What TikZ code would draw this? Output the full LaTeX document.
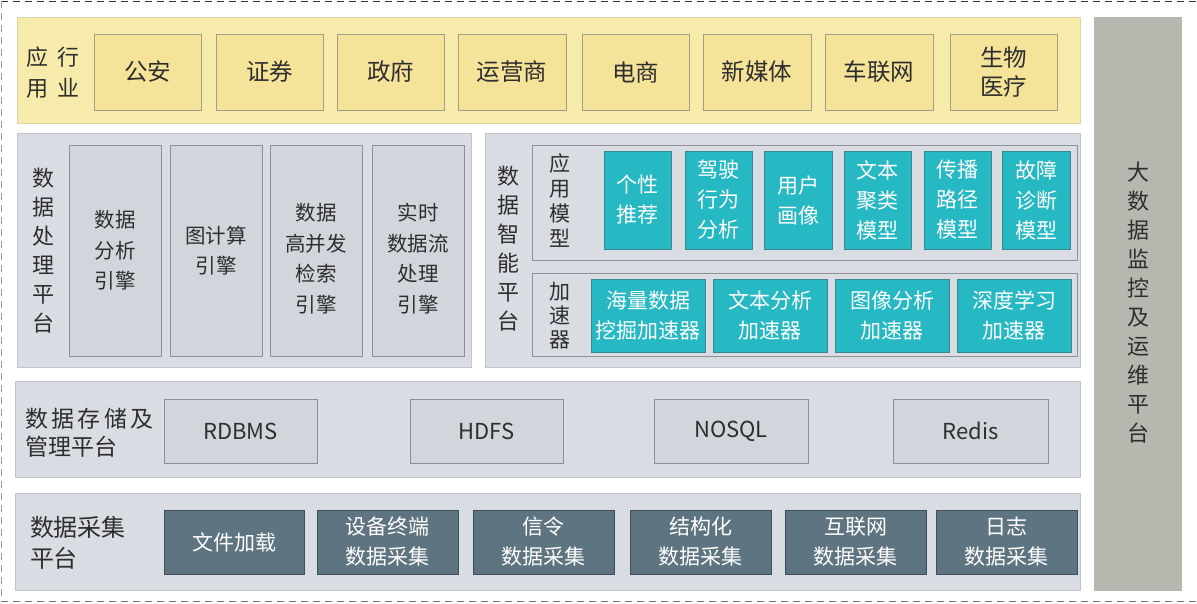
\documentclass[tikz,border=0pt]{standalone}
\usepackage{fontspec}
\setmainfont{Noto Sans CJK SC}
\definecolor{txt}{HTML}{2E2E2E}
\definecolor{ypanelfill}{HTML}{F7EBAC}
\definecolor{ypanelline}{HTML}{DCD3A6}
\definecolor{yitemfill}{HTML}{F6E39A}
\definecolor{yitemline}{HTML}{A59F8A}
\definecolor{gpanelfill}{HTML}{D9DCE3}
\definecolor{gpanelline}{HTML}{C2C5CB}
\definecolor{gsubfill}{HTML}{D1D5DC}
\definecolor{gsubline}{HTML}{8D9096}
\definecolor{tealfill}{HTML}{26B8C3}
\definecolor{tealline}{HTML}{3A8790}
\definecolor{darkfill}{HTML}{5E7480}
\definecolor{darkline}{HTML}{3F4E57}
\definecolor{sidefill}{HTML}{B6B7AE}
\newcommand\bx[7]{\node[#6, minimum width=#4pt-#2pt, minimum height=#5pt-#3pt] (#1) at ({(#2+#4)/2},{(#3+#5)/2}) {#7};}
\tikzset{
  every node/.style={inner sep=0pt, outer sep=0pt, text=txt, align=center},
  ypanel/.style={draw=ypanelline, fill=ypanelfill, line width=0.8pt},
  yitem/.style={draw=yitemline, fill=yitemfill, line width=0.8pt, font=\fontsize{23.5}{29}\selectfont},
  gpanel/.style={draw=gpanelline, fill=gpanelfill, line width=0.8pt},
  gsubpanel/.style={draw=gsubline, fill=gpanelfill, line width=0.9pt},
  gsub/.style={draw=gsubline, fill=gsubfill, line width=0.8pt, font=\fontsize{20.5}{30.5}\selectfont},
  gstore/.style={draw=gsubline, fill=gsubfill, line width=0.8pt, font=\fontsize{22}{29}\selectfont},
  tealbox/.style={draw=tealline, fill=tealfill, line width=0.8pt, text=white, font=\fontsize{21}{30}\selectfont},
  darkbox/.style={draw=darkline, fill=darkfill, line width=0.8pt, text=white, font=\fontsize{21}{30}\selectfont},
  sidebar/.style={fill=sidefill},
  lbl/.style={font=\fontsize{22}{29}\selectfont},
}
\begin{document}
\begin{tikzpicture}[x=1pt,y=-1pt]
\useasboundingbox (0,0) rectangle (1197,603);
\fill[white] (0,0) rectangle (1197,603);
% outer dashed frame
\coordinate (tl) at (1,1);
\coordinate (tr) at (1197,1);
\coordinate (bl) at (1,601);
\coordinate (br) at (1197,601);
\draw[black!80, line width=1pt, dash pattern=on 7pt off 5pt] (tl) -- (tr);
\draw[black!40, line width=1pt, dash pattern=on 7pt off 5pt] (tl) -- (bl);
\draw[black!55, line width=1pt, dash pattern=on 7pt off 5pt] (bl) -- (br);

% industry application
\bx{yp}{17}{17}{1080}{123}{ypanel}{}
\node[lbl, font=\fontsize{22}{31}\selectfont] (ylbl) at (53,73) {应\hspace{9pt}行\\用\hspace{9pt}业};
\bx{y1}{94}{34}{201}{110}{yitem}{公安}
\bx{y2}{216}{34}{323}{110}{yitem}{证券}
\bx{y3}{337}{34}{444}{110}{yitem}{政府}
\bx{y4}{458}{34}{566}{110}{yitem}{运营商}
\bx{y5}{582}{34}{689}{110}{yitem}{电商}
\bx{y6}{703}{34}{811}{110}{yitem}{新媒体}
\bx{y7}{825}{34}{933}{110}{yitem}{车联网}
\bx{y8}{950}{34}{1057}{110}{yitem}{生物\\医疗}

% processing platform
\bx{pp}{17}{133}{471}{367}{gpanel}{}
\node[lbl] (pplbl) at (43,251) {数\\据\\处\\理\\平\\台};
\bx{p1}{69}{145}{161}{356}{gsub}{数据\\分析\\引擎}
\bx{p2}{170}{145}{262}{356}{gsub}{图计算\\引擎}
\bx{p3}{270}{145}{362}{356}{gsub}{}
\bx{p4}{372}{145}{464}{356}{gsub}{}
\node[font=\fontsize{20.5}{30.5}\selectfont] (p3t) at ([yshift=-8pt]p3.center) {数据\\高并发\\检索\\引擎};
\node[font=\fontsize{20.5}{30.5}\selectfont] (p4t) at ([yshift=-8pt]p4.center) {实时\\数据流\\处理\\引擎};

% intelligence platform
\bx{ip}{485}{133}{1080}{367}{gpanel}{}
\node[lbl] (iplbl) at (508,249) {数\\据\\智\\能\\平\\台};
\bx{am}{532}{145}{1077}{260}{gsubpanel}{}
\node[lbl, font=\fontsize{21}{25}\selectfont] (amlbl) at (560,201) {应\\用\\模\\型};
\bx{t1}{604}{151}{671}{249}{tealbox}{个性\\推荐}
\bx{t2}{685}{151}{752}{249}{tealbox}{驾驶\\行为\\分析}
\bx{t3}{764}{151}{832}{249}{tealbox}{用户\\画像}
\bx{t4}{844}{151}{911}{249}{tealbox}{文本\\聚类\\模型}
\bx{t5}{924}{151}{991}{249}{tealbox}{传播\\路径\\模型}
\bx{t6}{1002}{151}{1070}{249}{tealbox}{故障\\诊断\\模型}
\bx{ac}{532}{273}{1077}{356}{gsubpanel}{}
\node[lbl, font=\fontsize{21}{24}\selectfont] (aclbl) at (560,316) {加\\速\\器};
\bx{a1}{591}{279}{705}{352}{tealbox}{海量数据\\挖掘加速器}
\bx{a2}{713}{279}{827}{352}{tealbox}{文本分析\\加速器}
\bx{a3}{835}{279}{949}{352}{tealbox}{图像分析\\加速器}
\bx{a4}{957}{279}{1071}{352}{tealbox}{深度学习\\加速器}

% storage platform
\bx{sp}{15}{381}{1080}{477}{gpanel}{}
\node[lbl, font=\fontsize{23}{28}\selectfont, align=left, anchor=west] (splbl) at (25,433) {数\hspace{3.5pt}据\hspace{3.5pt}存\hspace{3.5pt}储\hspace{3.5pt}及\\管理平台};
\bx{s1}{164}{399}{317}{463}{gstore}{RDBMS}
\bx{s2}{410}{399}{563}{463}{gstore}{HDFS}
\bx{s3}{654}{399}{808}{463}{gstore}{NOSQL}
\bx{s4}{893}{399}{1048}{463}{gstore}{Redis}

% collection platform
\bx{cp}{15}{493}{1080}{590}{gpanel}{}
\node[lbl, font=\fontsize{24}{31}\selectfont, align=left, anchor=west] (cplbl) at (30,543) {数据采集\\平台};
\bx{c1}{164}{510}{304}{574}{darkbox}{文件加载}
\bx{c2}{317}{510}{458}{574}{darkbox}{设备终端\\数据采集}
\bx{c3}{473}{510}{614}{574}{darkbox}{信令\\数据采集}
\bx{c4}{630}{510}{771}{574}{darkbox}{结构化\\数据采集}
\bx{c5}{785}{510}{926}{574}{darkbox}{互联网\\数据采集}
\bx{c6}{936}{510}{1077}{574}{darkbox}{日志\\数据采集}

% monitoring sidebar
\bx{mb}{1094}{17}{1182}{591}{sidebar}{}
\node[lbl] (mblbl) at (1138,303) {大\\数\\据\\监\\控\\及\\运\\维\\平\\台};
\end{tikzpicture}
\end{document}
